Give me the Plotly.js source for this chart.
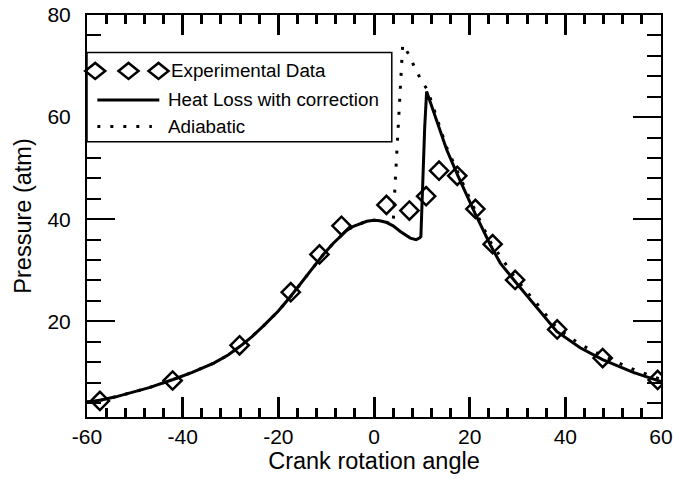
<!DOCTYPE html>
<html>
<head>
<meta charset="utf-8">
<script src="https://cdn.plot.ly/plotly-3.0.1.min.js"></script>
<style>html,body{margin:0;padding:0;background:#fff}#chart{width:673px;height:479px}</style>
</head>
<body>
<div id="chart"></div>
<script>
// Experimental data (diamonds)
const angleExp = [-57.3, -42.1, -28.1, -17.4, -11.4, -6.8, 2.6, 7.4, 10.9, 13.6, 17.4, 21.2, 24.8, 29.5, 38.3, 47.8, 59.3];
const pressureExp = [4.4, 8.4, 15.3, 25.7, 33.1, 38.7, 42.8, 41.7, 44.5, 49.5, 48.5, 42.0, 35.1, 28.1, 18.4, 12.8, 8.5];

// Heat loss with correction (solid line)
const angleHeatLoss = [-60, -57, -54, -51, -47, -42, -38, -33.5, -30.5, -28, -25.5, -23, -20, -17.4, -15, -12.7, -10.5, -8.5, -7, -5.7, -4.3, -3, -1.5, 0, 1.2, 2.5, 4, 5.5, 6.6, 7.6, 8.8, 9.5, 9.8, 10.1, 10.6, 11.0, 15.2, 17.6, 21.1, 24.3, 26.4, 29.5, 33.3, 38.2, 43.1, 47.8, 54.2, 60];
const pressureHeatLoss = [4.2, 4.6, 5.2, 6.0, 7.0, 8.6, 10.0, 11.8, 13.4, 15.1, 17.0, 19.2, 22.0, 24.9, 27.8, 30.7, 33.2, 35.3, 36.7, 37.8, 38.6, 39.1, 39.6, 39.8, 39.7, 39.4, 38.7, 37.6, 36.9, 36.3, 36.0, 36.3, 36.6, 45, 58, 65.0, 53.6, 48.4, 41.2, 35.0, 31.4, 27.8, 23.6, 18.0, 14.8, 12.5, 10.0, 8.2];

// Adiabatic (dotted line)
const angleAdiabatic = [-60, -57, -54, -51, -47, -42, -38, -33.5, -30.5, -28, -25.5, -23, -20, -17.4, -15, -12.7, -10.5, -8.5, -7, -5.7, -4.3, -3, -1.5, 0, 1.2, 2.5, 4.0, 4.4, 5.9, 6.0, 7.4, 8.6, 10.0, 11.2, 15.2, 17.6, 21.1, 24.3, 29.5, 33.3, 38.2, 43.1, 47.8, 54.2, 60];
const pressureAdiabatic = [4.2, 4.6, 5.2, 6.0, 7.0, 8.6, 10.0, 11.8, 13.4, 15.1, 17.0, 19.2, 22.0, 24.9, 27.8, 30.7, 33.2, 35.3, 36.7, 37.8, 38.6, 39.1, 39.6, 39.8, 39.7, 39.4, 39.0, 46.7, 72, 74.2, 72.1, 69.5, 67.0, 65.3, 54.0, 48.9, 41.8, 35.6, 28.5, 24.3, 18.7, 15.5, 13.2, 10.6, 8.6];

// Tick labels
const xTickVals = [-60, -40, -20, 0, 20, 40, 60];
const xTickText = ['-60', '-40', '-20', '0', '20', '40', '60'];
const xMinorVals = [-56, -52, -48, -44, -36, -32, -28, -24, -16, -12, -8, -4, 4, 8, 12, 16, 24, 28, 32, 36, 44, 48, 52, 56];
const yTickVals = [20, 40, 60, 80];
const yTickText = ['20', '40', '60', '80'];
const yMinorVals = [4, 8, 12, 16, 24, 28, 32, 36, 44, 48, 52, 56, 64, 68, 72, 76];

const seriesNames = ['Experimental Data', 'Heat Loss with correction', 'Adiabatic'];

const FONT = 'Liberation Sans, Arial, Helvetica, sans-serif';

const traces = [
  {x: angleAdiabatic, y: pressureAdiabatic, name: seriesNames[2], mode: 'lines',
   line: {color: '#000', width: 3, dash: '3px,10px'}, showlegend: false, hoverinfo: 'skip'},
  {x: angleHeatLoss, y: pressureHeatLoss, name: seriesNames[1], mode: 'lines',
   line: {color: '#000', width: 3}, showlegend: false},
  {x: angleExp, y: pressureExp, name: seriesNames[0], mode: 'markers',
   marker: {symbol: 'diamond-open', size: 14, color: '#000', line: {color: '#000', width: 2.5}}, showlegend: false}
];

// Legend geometry (paper fractions)
const LX0 = 0, LX1 = 0.531, LY0 = 0.685, LY1 = 0.907;
const rowY = [0.8608, 0.7887, 0.7224];
const diamondPath = 'M-10,0 L0,8 L10,0 L0,-8 Z';
const shapes = [
  {type: 'rect', xref: 'paper', yref: 'paper', x0: LX0, x1: LX1, y0: LY0, y1: LY1,
   line: {color: '#000', width: 1.5}, fillcolor: 'rgba(255,255,255,1)', layer: 'above'},
  {type: 'line', xref: 'paper', yref: 'paper', x0: 0.018, x1: 0.126, y0: rowY[1], y1: rowY[1],
   line: {color: '#000', width: 3}},
  {type: 'line', xref: 'paper', yref: 'paper', x0: 0.018, x1: 0.113, y0: rowY[2], y1: rowY[2],
   line: {color: '#000', width: 3, dash: '3px,10px'}}
];
[0.0143, 0.0723, 0.1246].forEach(function (xa) {
  shapes.push({type: 'path', xref: 'paper', yref: 'paper', xsizemode: 'pixel', ysizemode: 'pixel',
    xanchor: xa, yanchor: rowY[0], path: diamondPath, line: {color: '#000', width: 2.5}});
});

const annotations = [
  {text: seriesNames[0], x: 0.143, y: rowY[0]},
  {text: seriesNames[1], x: 0.138, y: rowY[1]},
  {text: seriesNames[2], x: 0.138, y: rowY[2]}
].map(function (a) {
  return {text: a.text, x: a.x, y: a.y, xref: 'paper', yref: 'paper', xanchor: 'left', yanchor: 'middle',
    showarrow: false, font: {family: FONT, size: 18.8, color: '#000'}};
});

const layout = {
  width: 673, height: 479,
  margin: {l: 87, r: 12, t: 15, b: 62, pad: 0},
  paper_bgcolor: '#fff', plot_bgcolor: '#fff',
  showlegend: false,
  xaxis: {
    range: [-60, 60], showline: true, linecolor: '#000', linewidth: 2, mirror: 'allticks',
    showgrid: false, zeroline: false,
    tickmode: 'array', tickvals: xTickVals, ticktext: xTickText,
    ticks: 'inside', ticklen: 20, tickwidth: 3, tickcolor: '#000',
    minor: {tickmode: 'array', tickvals: xMinorVals, ticks: 'inside', ticklen: 9, tickwidth: 3, tickcolor: '#000'},
    tickfont: {family: FONT, size: 21, color: '#000'},
    title: {text: 'Crank rotation angle', font: {family: FONT, size: 23.5, color: '#000'}, standoff: 5}
  },
  yaxis: {
    range: [1.25, 80], showline: true, linecolor: '#000', linewidth: 2, mirror: 'allticks',
    showgrid: false, zeroline: false,
    tickmode: 'array', tickvals: yTickVals, ticktext: yTickText,
    ticks: 'inside', ticklen: 28, tickwidth: 2, tickcolor: '#000',
    minor: {tickmode: 'array', tickvals: yMinorVals, ticks: 'inside', ticklen: 14, tickwidth: 2, tickcolor: '#000'},
    tickfont: {family: FONT, size: 21, color: '#000'},
    ticklabelstandoff: 10,
    title: {text: 'Pressure (atm)', font: {family: FONT, size: 23.5, color: '#000'}, standoff: 9}
  },
  shapes: shapes,
  annotations: annotations
};

Plotly.newPlot('chart', traces, layout, {displayModeBar: false});
</script>
</body>
</html>
